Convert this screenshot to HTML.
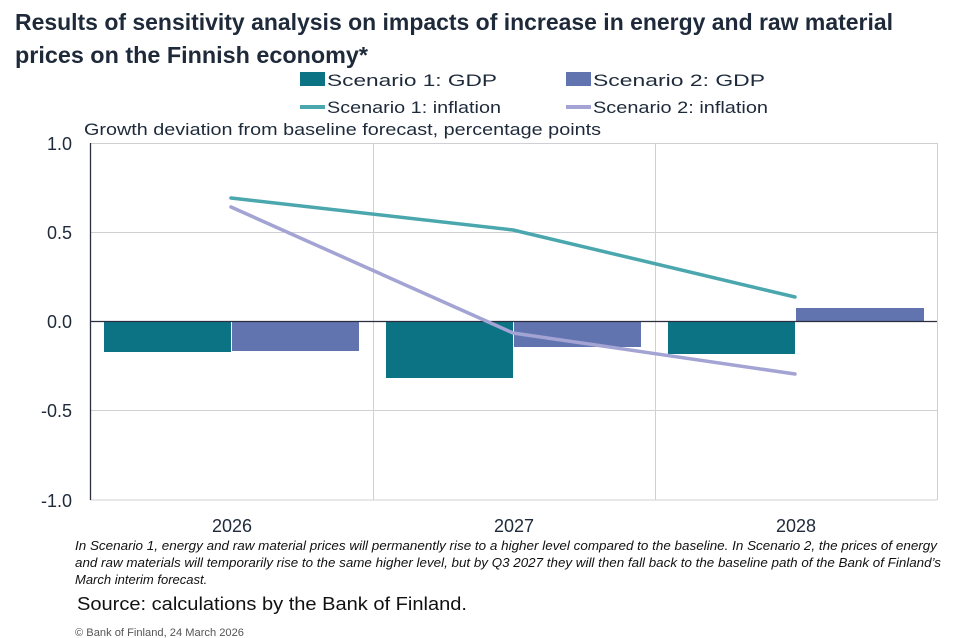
<!DOCTYPE html>
<html><head><meta charset="utf-8"><style>
html,body{margin:0;padding:0;background:#fff;}
svg{display:block;font-family:"Liberation Sans Narrow","Liberation Sans",sans-serif;}
</style></head><body>
<svg width="977" height="638" viewBox="0 0 977 638">
<text x="15" y="30" font-size="23" font-weight="bold" fill="#1e2a3a" textLength="878" lengthAdjust="spacingAndGlyphs">Results of sensitivity analysis on impacts of increase in energy and raw material</text>
<text x="15" y="63" font-size="23" font-weight="bold" fill="#1e2a3a" textLength="353" lengthAdjust="spacingAndGlyphs">prices on the Finnish economy*</text>
<g font-size="17" fill="#1e2a3a">
<rect x="300" y="72" width="25" height="14" fill="#0c7385"/>
<text x="327" y="86" textLength="170" lengthAdjust="spacingAndGlyphs">Scenario 1: GDP</text>
<rect x="566" y="72" width="25" height="14" fill="#6274b0"/>
<text x="593" y="86" textLength="172" lengthAdjust="spacingAndGlyphs">Scenario 2: GDP</text>
<line x1="300" y1="107" x2="325" y2="107" stroke="#4aa7ad" stroke-width="4"/>
<text x="327" y="113" textLength="174" lengthAdjust="spacingAndGlyphs">Scenario 1: inflation</text>
<line x1="566" y1="107" x2="591" y2="107" stroke="#a3a3d4" stroke-width="4"/>
<text x="593" y="113" textLength="175" lengthAdjust="spacingAndGlyphs">Scenario 2: inflation</text>
<text x="84" y="135" textLength="517" lengthAdjust="spacingAndGlyphs">Growth deviation from baseline forecast, percentage points</text>
</g>
<g stroke="#d0d0d4" stroke-width="1">
<line x1="90" y1="143.5" x2="937" y2="143.5"/>
<line x1="90" y1="232.5" x2="937" y2="232.5"/>
<line x1="90" y1="410.5" x2="937" y2="410.5"/>
<line x1="90" y1="500" x2="937" y2="500"/>
<line x1="373.5" y1="143" x2="373.5" y2="500"/>
<line x1="655.5" y1="143" x2="655.5" y2="500"/>
<line x1="937.5" y1="143" x2="937.5" y2="500"/>
</g>
<g>
<rect x="104" y="321" width="127" height="31" fill="#0c7385"/>
<rect x="232" y="321" width="127" height="30" fill="#6274b0"/>
<rect x="386" y="321" width="127" height="57" fill="#0c7385"/>
<rect x="514" y="321" width="127" height="26" fill="#6274b0"/>
<rect x="668" y="321" width="127" height="33" fill="#0c7385"/>
<rect x="796" y="308" width="128" height="13" fill="#6274b0"/>
</g>
<line x1="90" y1="321.5" x2="937" y2="321.5" stroke="#2a2e3e" stroke-width="1.3"/>
<line x1="90.5" y1="143" x2="90.5" y2="500" stroke="#2a2e3e" stroke-width="1.3"/>
<polyline points="231,198 513,230 795,297" fill="none" stroke="#4aa7ad" stroke-width="3.5" stroke-linecap="round" stroke-linejoin="round"/>
<polyline points="231,207 513,333 795,374" fill="none" stroke="#a3a3d4" stroke-width="3.5" stroke-linecap="round" stroke-linejoin="round"/>
<g font-size="18" fill="#1e2a3a" text-anchor="end" font-family="Liberation Sans, sans-serif">
<text x="72" y="150">1.0</text>
<text x="72" y="239">0.5</text>
<text x="72" y="328">0.0</text>
<text x="72" y="417">-0.5</text>
<text x="72" y="507">-1.0</text>
</g>
<g font-size="18" fill="#1e2a3a" text-anchor="middle" font-family="Liberation Sans, sans-serif">
<text x="232" y="532">2026</text>
<text x="514" y="532">2027</text>
<text x="796" y="532">2028</text>
</g>
<g font-size="13" font-style="italic" fill="#111">
<text x="75" y="550" textLength="862" lengthAdjust="spacingAndGlyphs">In Scenario 1, energy and raw material prices will permanently rise to a higher level compared to the baseline. In Scenario 2,  the prices of energy</text>
<text x="75" y="567" textLength="866" lengthAdjust="spacingAndGlyphs">and raw materials will temporarily rise to the same higher level, but by Q3 2027 they will then fall back to the baseline path of the Bank of Finland’s</text>
<text x="75" y="584">March interim forecast.</text>
</g>
<text x="77" y="610" font-size="18" fill="#111" textLength="390" lengthAdjust="spacingAndGlyphs">Source: calculations by the Bank of Finland.</text>
<text x="75" y="636" font-size="11" fill="#555" textLength="169" lengthAdjust="spacingAndGlyphs">© Bank of Finland, 24 March 2026</text>
</svg>
</body></html>
